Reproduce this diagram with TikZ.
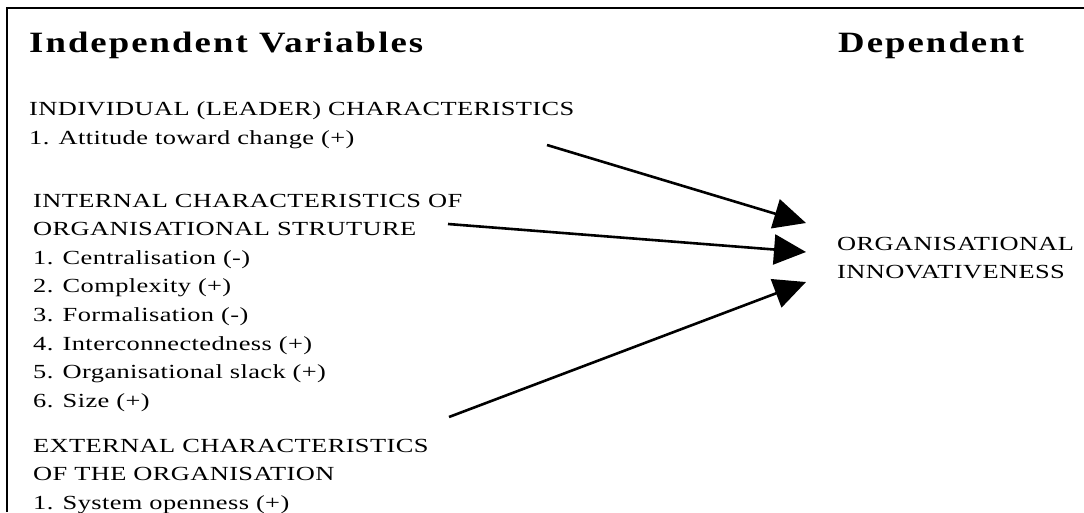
\documentclass[tikz,border=0pt]{standalone}
\usepackage{fontspec}
\setmainfont{Liberation Serif}
\newfontfamily\bodyfont{Liberation Serif}[FakeStretch=1.32,LetterSpace=2]
\newfontfamily\headfont{Liberation Serif}[FakeStretch=1.245,LetterSpace=7]
\usetikzlibrary{arrows.meta}

\newcommand{\stacklines}[1]{\begin{tabular}[t]{@{}l@{}}#1\end{tabular}}

\tikzset{
  headtext/.style={anchor=base west,inner sep=0pt,font=\fontsize{29.5}{34}\headfont\bfseries},
  grouptext/.style={anchor=base west,inner sep=0pt,font=\fontsize{20}{28.6}\bodyfont},
  link/.style={line width=2.6pt,-{Triangle[length=32pt,width=30pt]}}
}

\begin{document}
\begin{tikzpicture}[x=1pt,y=-1pt]
\useasboundingbox (0,0) rectangle (1084,512);

%---------------- Frame ----------------
\draw[line width=2pt] (7,512) -- (7,8) -- (1084,8);

%---------------- Headings ----------------
\node[headtext] (indep) at (29,52) {Independent Variables};
\node[headtext] (depend) at (838,52) {Dependent};

%---------------- Independent variables ----------------
\node[grouptext] (indiv) at (29,115.5)
  {\stacklines{INDIVIDUAL (LEADER) CHARACTERISTICS\\1. Attitude toward change (+)}};
\node[grouptext] (internal) at (33,207)
  {\stacklines{INTERNAL CHARACTERISTICS OF\\ORGANISATIONAL STRUTURE\\1. Centralisation (-)\\2. Complexity (+)\\3. Formalisation (-)\\4. Interconnectedness (+)\\5. Organisational slack (+)\\6. Size (+)}};
\node[grouptext] (external) at (33,452)
  {\stacklines{EXTERNAL CHARACTERISTICS\\OF THE ORGANISATION\\1. System openness (+)}};

%---------------- Dependent variable ----------------
\node[grouptext] (innov) at (837,250)
  {\stacklines{ORGANISATIONAL\\INNOVATIVENESS}};

% Arrow ends
\coordinate (s1) at (547,145);
\coordinate (s2) at (448,224);
\coordinate (s3) at (449,417);
\coordinate (t1) at (806,223);
\coordinate (t2) at (806,252);
\coordinate (t3) at (806,282);

% Arrows
\draw[link] (s1) -- (t1);
\draw[link] (s2) -- (t2);
\draw[link] (s3) -- (t3);

\end{tikzpicture}
\end{document}
